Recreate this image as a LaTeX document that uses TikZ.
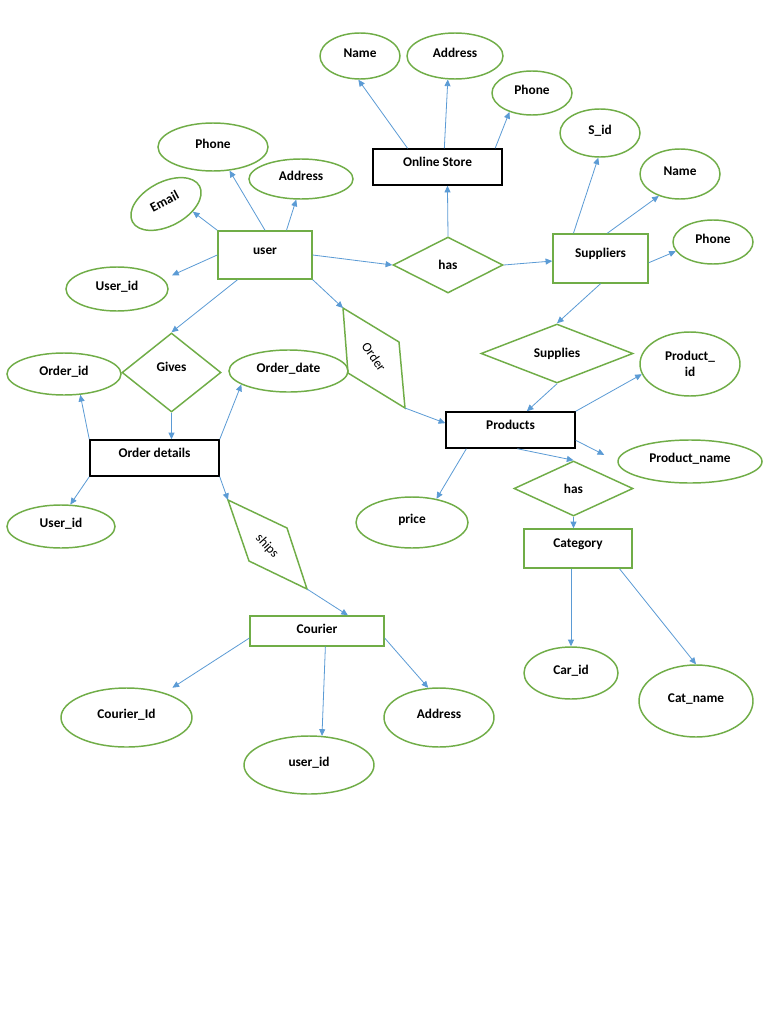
\documentclass[tikz,border=0pt]{standalone}
\usepackage{fontspec}
\setmainfont{Carlito}
\usetikzlibrary{shapes.geometric,arrows.meta,calc}
\definecolor{egreen}{HTML}{70AD47}
\definecolor{eblue}{HTML}{5B9BD5}
\begin{document}
\begin{tikzpicture}[x=0.75pt,y=-0.75pt,
 sz/.style 2 args={minimum width=#1*0.75pt,minimum height=#2*0.75pt},
 attrbase/.style={ellipse,draw=egreen,line width=1.1pt,inner sep=0pt,font=\bfseries},
 attr/.style={attrbase,text height=7pt,text depth=5pt},
 ent/.style={rectangle,draw=egreen,line width=1.1pt,inner sep=0pt,font=\bfseries,text height=7pt,text depth=8pt},
 bent/.style={ent,draw=black},
 rel/.style={diamond,draw=egreen,line width=1.1pt,inner sep=0pt,font=\bfseries},
 para/.style={draw=egreen,line width=1.1pt,line join=miter},
 arr/.style={draw=eblue,line width=0.6pt,-{Triangle[length=5pt,width=4.5pt]}},
]
\fill[white] (0,0) rectangle (768,1024);
\useasboundingbox (0,0) rectangle (768,1024);

% Online store
\node[bent,sz={129}{36}] (store) at (437.5,167) {Online Store};
\node[attr,sz={80}{46}] (nameS) at (360,56) {Name};
\node[attr,sz={96}{46}] (addrS) at (455,56) {Address};
\node[attr,sz={80}{44}] (phoneS) at (532,93) {Phone};

% user
\node[attr,sz={110}{48}] (phoneU) at (213,147) {Phone};
\node[attr,sz={104}{40}] (addrU) at (301,179) {Address};
\node[attr,sz={76}{44},rotate=28] (email) at (166,204) {Email};
\node[ent,sz={94}{48}] (user) at (265,255) {user};
\node[attr,sz={102}{44}] (uid1) at (117,289) {User\_id};

% has / suppliers
\node[rel,sz={110}{56}] (has1) at (448,265) {has};
\node[ent,sz={95}{49}] (sup) at (600.5,258.5) {Suppliers};
\node[attr,sz={80}{48}] (sid) at (600,133) {S\_id};
\node[attr,sz={80}{50}] (nameSup) at (680,174) {Name};
\node[attr,sz={80}{44}] (phoneSup) at (713,242) {Phone};

% supplies / products
\node[rel,sz={152}{59}] (supplies) at (557,353.5) {Supplies};
\node[bent,sz={129}{36}] (prod) at (510.5,430) {Products};
\node[attrbase,sz={100}{64},align=center] (pid) at (690,364) {Product\_\\id};
\node[attr,sz={144}{43}] (pname) at (690,461.5) {Product\_name};
\node[rel,sz={119}{55}] (has2) at (573.5,488.5) {has};
\node[ent,sz={108}{39}] (cat) at (578,548.5) {Category};
\node[attr,sz={112}{51}] (price) at (412,522.5) {price};
\node[attr,sz={94}{52}] (carid) at (571,673) {Car\_id};
\node[attr,sz={114}{72}] (catname) at (696,701) {Cat\_name};

% gives / order details
\node[rel,sz={99}{79},text height=7pt,text depth=8pt] (gives) at (171.5,372.5) {Gives};
\node[attr,sz={114}{42}] (oid) at (64,374) {Order\_id};
\node[attr,sz={119}{42}] (odate) at (288.5,371) {Order\_date};
\node[bent,sz={129}{36}] (odet) at (154.5,458) {Order details};
\node[attr,sz={108}{43}] (uid2) at (61,526.5) {User\_id};

% courier
\node[ent,sz={134}{30},text depth=3.5pt] (cour) at (317,631) {Courier};
\node[attr,sz={131}{59}] (cid) at (126.5,717.5) {Courier\_Id};
\node[attr,sz={130}{58}] (uid3) at (309,765) {user\_id};
\node[attr,sz={110}{59}] (addrC) at (439,717.5) {Address};

% Order relationship (parallelogram)
\coordinate (oA) at (343,308);
\coordinate (oB) at (399,342);
\coordinate (oC) at (405,408);
\coordinate (oD) at (348,373);
\draw[para] (oA) -- (oB) -- (oC) -- (oD) -- cycle;
\node[rotate=-55] (ordtxt) at (374,357) {Order};

% ships relationship (parallelogram)
\coordinate (sA) at (228,500);
\coordinate (sB) at (287,528);
\coordinate (sC) at (307,589);
\coordinate (sD) at (249,561);
\draw[para] (sA) -- (sB) -- (sC) -- (sD) -- cycle;
\node[rotate=-48] (shtxt) at (267,546) {ships};

% connectors
\draw[arr] (store.148) -- (nameS.266);
\draw[arr] (store.70) -- (addrS.253);
\draw[arr] (store.18) -- (phoneS.220);
\draw[arr] (user.north) -- (phoneU.305);
\draw[arr] (user.49) -- (addrU.257);
\draw[arr] (user.north west) -- (email.-44);
\draw[arr,shorten >=7pt] (user.west) -- (uid1.12);
\draw[arr] (user.east) -- (has1.west);
\draw[arr] (has1.east) -- (sup.183);
\draw[arr] (has1.north) -- (store.-62);
\draw[arr] (sup.137) -- (sid.266);
\draw[arr] (sup.75) -- (nameSup.226);
\draw[arr] (sup.-5) -- (phoneSup.194);
\draw[arr] (sup.south) -- (supplies.north);
\draw[arr] (supplies.south) -- (prod.49);
\draw[arr] (prod.north east) -- (pid.192);
\draw[arr,shorten >=11pt] (prod.-9) -- (pname.180);
\draw[arr] (prod.-70) -- (has2.north);
\draw[arr] (has2.south) -- (has2.south |- cat.north);
\draw[arr] (prod.203) -- (price.44);
\draw[arr] (carid.north |- cat.south) -- (carid.north);
\draw[arr] (cat.-26) -- (catname.north);
\draw[arr] (user.south east) -- (oA);
\draw[arr] (oC) -- (prod.174);
\draw[arr] (user.222) -- (gives.north);
\draw[arr] (gives.south) -- (gives.south |- odet.north);
\draw[arr] (odet.north west) -- (oid.308);
\draw[arr] (odet.north east) -- (odate.196);
\draw[arr] (odet.south west) -- (uid2.67);
\draw[arr] (odet.south east) -- (sA);
\draw[arr] (sC) -- (cour.27);
\draw[arr,shorten >=7pt] (cour.186) -- (cid.33);
\draw[arr] (cour.-62) -- (uid3.66);
\draw[arr] (cour.-6) -- (addrC.110);
\end{tikzpicture}
\end{document}
